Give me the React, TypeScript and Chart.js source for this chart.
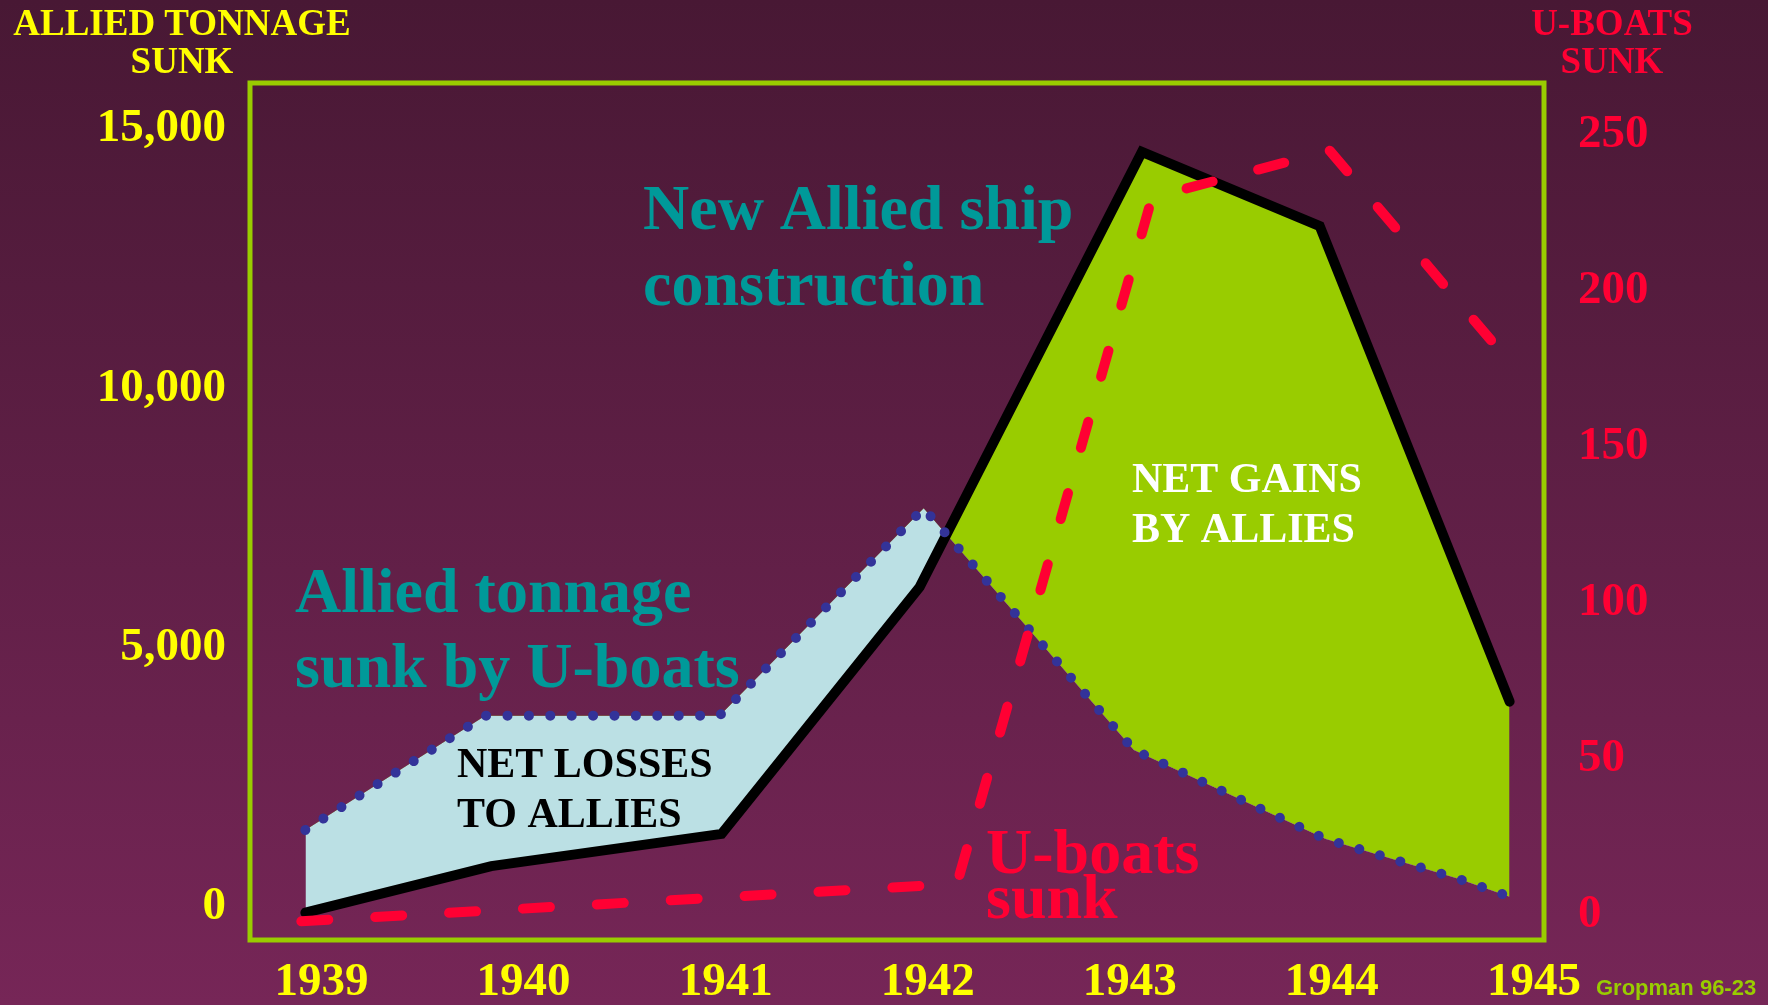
import React, { useEffect, useRef } from "react";
import { Chart, registerables } from "chart.js";

Chart.register(...registerables);

// ---- Data ----
const YEARS = [1939, 1940, 1941, 1942, 1943, 1944, 1945];
const TONNAGE_TICKS = [0, 5000, 10000, 15000];
const UBOAT_TICKS = [0, 50, 100, 150, 200, 250];

// New Allied ship construction (thousand tons)
const constructionX = [1938.92, 1939.84, 1940.98, 1941.96, 1943.06, 1943.94, 1944.88];
const constructionY = [-110, 790, 1410, 6170, 14560, 13130, 3960];

// Allied tonnage sunk by U-boats (thousand tons)
const sunkX = [1938.92, 1939.81, 1940.97, 1941.98, 1943.02, 1943.97, 1944.63, 1944.88];
const sunkY = [1485, 3690, 3690, 7690, 3030, 1310, 540, 200];

// U-boats sunk (count, right axis)
const uboatX = [1938.9, 1942.145, 1943.11, 1943.99, 1944.87];
const uboatY = [-2, 10, 230, 245, 178];

// ---- Styling ----
const SERIF = '"Liberation Serif", "Times New Roman", serif';
const SANS = '"Liberation Sans", Arial, sans-serif';
const YELLOW = "#ffff00";
const RED = "#ff0033";
const TEAL = "#009999";
const GREEN = "#99cc00";
const LIGHTBLUE = "#bbe0e4";
const NAVY = "#333399";

const toPoints = (xs: number[], ys: number[]) => xs.map((x, i) => ({ x, y: ys[i] }));

type Note = {
  lines: string[];
  x: number;
  y: number;
  lh: number;
  size: number;
  color: string;
  align: CanvasTextAlign;
  family?: string;
};

const NOTES: Note[] = [
  { lines: ["ALLIED TONNAGE", "SUNK"], x: 182, y: 35, lh: 38, size: 37, color: YELLOW, align: "center" },
  { lines: ["U-BOATS", "SUNK"], x: 1612, y: 35, lh: 38, size: 37, color: RED, align: "center" },
  { lines: ["New Allied ship", "construction"], x: 643, y: 229, lh: 76, size: 64, color: TEAL, align: "left" },
  { lines: ["Allied tonnage", "sunk by U-boats"], x: 295, y: 612, lh: 75, size: 64, color: TEAL, align: "left" },
  { lines: ["NET LOSSES", "TO ALLIES"], x: 457, y: 777, lh: 50, size: 42, color: "#000000", align: "left" },
  { lines: ["NET GAINS", "BY ALLIES"], x: 1132, y: 492, lh: 50, size: 42, color: "#ffffff", align: "left" },
  { lines: ["U-boats", "sunk"], x: 986, y: 873, lh: 45, size: 64, color: RED, align: "left" },
  { lines: ["Gropman 96-23"], x: 1596, y: 995, lh: 22, size: 22, color: GREEN, align: "left", family: SANS },
];

const framePlugin = {
  id: "frame",
  beforeDatasetsDraw(chart: any) {
    const { ctx, chartArea } = chart;
    ctx.save();
    ctx.strokeStyle = GREEN;
    ctx.lineWidth = 5;
    ctx.strokeRect(chartArea.left, chartArea.top, chartArea.right - chartArea.left, chartArea.bottom - chartArea.top);
    ctx.restore();
  },
};

const notesPlugin = {
  id: "notes",
  afterDraw(chart: any) {
    const { ctx } = chart;
    ctx.save();
    ctx.textBaseline = "alphabetic";
    NOTES.forEach((n) => {
      ctx.font = `bold ${n.size}px ${n.family || SERIF}`;
      ctx.fillStyle = n.color;
      ctx.textAlign = n.align;
      n.lines.forEach((line, i) => ctx.fillText(line, n.x, n.y + i * n.lh));
    });
    ctx.restore();
  },
};

export default function App() {
  const ref = useRef<HTMLCanvasElement>(null);

  useEffect(() => {
    const canvas = ref.current;
    if (!canvas) return;
    const tickFont = { family: SERIF, size: 47, weight: "bold" as const };
    const chart = new Chart(canvas, {
      type: "line",
      data: {
        datasets: [
          {
            label: "U-boats sunk",
            data: toPoints(uboatX, uboatY),
            yAxisID: "y1",
            borderColor: RED,
            borderWidth: 10,
            borderDash: [27, 47],
            borderCapStyle: "round",
            borderJoinStyle: "round",
            pointRadius: 0,
            tension: 0,
            fill: false,
          },
          {
            label: "Allied tonnage sunk by U-boats",
            data: toPoints(sunkX, sunkY),
            yAxisID: "y",
            borderColor: NAVY,
            borderWidth: 10,
            borderDash: [0.001, 21.4],
            borderCapStyle: "round",
            borderJoinStyle: "round",
            pointRadius: 0,
            tension: 0,
            fill: false,
          },
          {
            label: "New Allied ship construction",
            data: toPoints(constructionX, constructionY),
            yAxisID: "y",
            borderColor: "#000000",
            borderWidth: 10,
            borderCapStyle: "round",
            borderJoinStyle: "miter",
            pointRadius: 0,
            tension: 0,
            fill: { target: 1, above: GREEN, below: LIGHTBLUE },
          },
        ],
      },
      options: {
        responsive: false,
        maintainAspectRatio: false,
        animation: false,
        devicePixelRatio: 1,
        layout: { padding: { top: 83, left: 0, right: 0, bottom: 0 } },
        plugins: {
          legend: { display: false },
          tooltip: { enabled: false },
        },
        scales: {
          x: {
            type: "linear",
            min: 1938.646,
            max: 1945.05,
            bounds: "data",
            grid: { display: false, drawTicks: false },
            border: { display: false },
            afterBuildTicks: (s: any) => {
              s.ticks = YEARS.map((v) => ({ value: v }));
            },
            afterFit: (s: any) => {
              s.height = 65;
            },
            ticks: {
              color: YELLOW,
              font: tickFont,
              padding: 15,
              maxRotation: 0,
              autoSkip: false,
              callback: (v: any) => String(v),
            },
          },
          y: {
            type: "linear",
            position: "left",
            min: -636,
            max: 15889,
            bounds: "data",
            grid: { display: false, drawTicks: false },
            border: { display: false },
            afterBuildTicks: (s: any) => {
              s.ticks = TONNAGE_TICKS.map((v) => ({ value: v }));
            },
            afterFit: (s: any) => {
              s.width = 250;
            },
            ticks: {
              color: YELLOW,
              font: tickFont,
              padding: 24,
              autoSkip: false,
              callback: (v: any) => Number(v).toLocaleString("en-US"),
            },
          },
          y1: {
            type: "linear",
            position: "right",
            min: -8,
            max: 266.7,
            bounds: "data",
            grid: { display: false, drawTicks: false },
            border: { display: false },
            afterBuildTicks: (s: any) => {
              s.ticks = UBOAT_TICKS.map((v) => ({ value: v }));
            },
            afterFit: (s: any) => {
              s.width = 224;
            },
            ticks: {
              color: RED,
              font: tickFont,
              padding: 34,
              autoSkip: false,
              callback: (v: any) => String(v),
            },
          },
        },
      },
      plugins: [framePlugin, notesPlugin],
    } as any);
    return () => chart.destroy();
  }, []);

  return (
    <div
      style={{
        position: "fixed",
        left: 0,
        top: 0,
        width: 1768,
        height: 1005,
        background: "linear-gradient(to bottom, #481834 0%, #762657 100%)",
      }}
    >
      <canvas ref={ref} width={1768} height={1005} style={{ display: "block", width: 1768, height: 1005 }} />
    </div>
  );
}
